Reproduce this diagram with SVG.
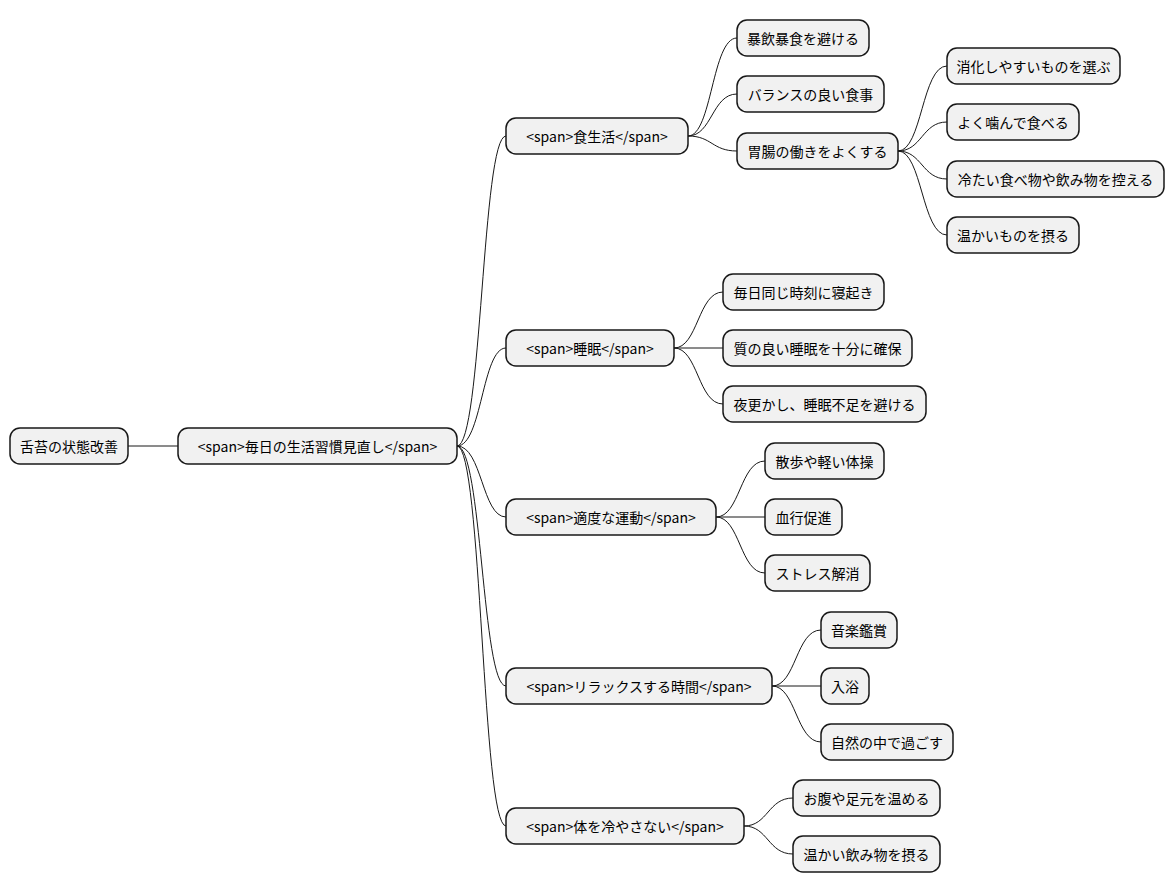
<svg xmlns="http://www.w3.org/2000/svg" width="1174" height="893" viewBox="0 0 1174 893">
<style>
.n rect{fill:#f1f1f1;stroke:#181818;stroke-width:1.5}
.n text{font-family:"Noto Sans CJK JP","Liberation Sans",sans-serif;font-size:14px;fill:#000;text-anchor:middle;dominant-baseline:central}
#c path{fill:none;stroke:#181818;stroke-width:1}
</style>
<rect width="1174" height="893" fill="#fff"/>
<g id="c">
<path d="M128,446 L178,446"/>
<path d="M457,446 C482,446 482,136 506,136"/>
<path d="M457,446 C482,446 482,348 506,348"/>
<path d="M457,446 C482,446 482,517 506,517"/>
<path d="M457,446 C482,446 482,686 506,686"/>
<path d="M457,446 C482,446 482,826 506,826"/>
<path d="M688,136 C712,136 712,38 737,38"/>
<path d="M688,136 C712,136 712,94 737,94"/>
<path d="M688,136 C712,136 712,151 737,151"/>
<path d="M898,151 C922,151 922,66 947,66"/>
<path d="M898,151 C922,151 922,122 947,122"/>
<path d="M898,151 C922,151 922,179 947,179"/>
<path d="M898,151 C922,151 922,235 947,235"/>
<path d="M674,348 C698,348 698,292 723,292"/>
<path d="M674,348 L723,348"/>
<path d="M674,348 C698,348 698,404 723,404"/>
<path d="M716,517 C740,517 740,461 765,461"/>
<path d="M716,517 L765,517"/>
<path d="M716,517 C740,517 740,573 765,573"/>
<path d="M772,686 C796,686 796,630 821,630"/>
<path d="M772,686 L821,686"/>
<path d="M772,686 C796,686 796,742 821,742"/>
<path d="M744,826 C768,826 768,798 793,798"/>
<path d="M744,826 C768,826 768,854 793,854"/>
</g>
<g id="root" class="n"><rect x="10" y="428" width="118" height="36" rx="10"/><text x="69" y="446">舌苔の状態改善</text></g>
<g id="l1" class="n"><rect x="178" y="428" width="279" height="36" rx="10"/><text x="317.5" y="446">&lt;span&gt;毎日の生活習慣見直し&lt;/span&gt;</text></g>
<g id="diet" class="n"><rect x="506" y="118" width="182" height="36" rx="10"/><text x="597" y="136">&lt;span&gt;食生活&lt;/span&gt;</text></g>
<g id="sleep" class="n"><rect x="506" y="330" width="168" height="36" rx="10"/><text x="590" y="348">&lt;span&gt;睡眠&lt;/span&gt;</text></g>
<g id="exercise" class="n"><rect x="506" y="499" width="210" height="36" rx="10"/><text x="611" y="517">&lt;span&gt;適度な運動&lt;/span&gt;</text></g>
<g id="relax" class="n"><rect x="506" y="668" width="266" height="36" rx="10"/><text x="639" y="686">&lt;span&gt;リラックスする時間&lt;/span&gt;</text></g>
<g id="warm" class="n"><rect x="506" y="808" width="238" height="36" rx="10"/><text x="625" y="826">&lt;span&gt;体を冷やさない&lt;/span&gt;</text></g>
<g id="d1" class="n"><rect x="737" y="20" width="132" height="36" rx="10"/><text x="803" y="38">暴飲暴食を避ける</text></g>
<g id="d2" class="n"><rect x="737" y="76" width="147" height="36" rx="10"/><text x="810.5" y="94">バランスの良い食事</text></g>
<g id="d3" class="n"><rect x="737" y="133" width="161" height="36" rx="10"/><text x="817.5" y="151">胃腸の働きをよくする</text></g>
<g id="g1" class="n"><rect x="947" y="48" width="173" height="36" rx="10"/><text x="1033.5" y="66">消化しやすいものを選ぶ</text></g>
<g id="g2" class="n"><rect x="947" y="104" width="132" height="36" rx="10"/><text x="1013" y="122">よく噛んで食べる</text></g>
<g id="g3" class="n"><rect x="947" y="161" width="217" height="36" rx="10"/><text x="1055.5" y="179">冷たい食べ物や飲み物を控える</text></g>
<g id="g4" class="n"><rect x="947" y="217" width="132" height="36" rx="10"/><text x="1013" y="235">温かいものを摂る</text></g>
<g id="s1" class="n"><rect x="723" y="274" width="161" height="36" rx="10"/><text x="803.5" y="292">毎日同じ時刻に寝起き</text></g>
<g id="s2" class="n"><rect x="723" y="330" width="189" height="36" rx="10"/><text x="817.5" y="348">質の良い睡眠を十分に確保</text></g>
<g id="s3" class="n"><rect x="723" y="386" width="203" height="36" rx="10"/><text x="824.5" y="404">夜更かし、睡眠不足を避ける</text></g>
<g id="e1" class="n"><rect x="765" y="443" width="119" height="36" rx="10"/><text x="824.5" y="461">散歩や軽い体操</text></g>
<g id="e2" class="n"><rect x="765" y="499" width="77" height="36" rx="10"/><text x="803.5" y="517">血行促進</text></g>
<g id="e3" class="n"><rect x="765" y="555" width="105" height="36" rx="10"/><text x="817.5" y="573">ストレス解消</text></g>
<g id="r1" class="n"><rect x="821" y="612" width="76" height="36" rx="10"/><text x="859" y="630">音楽鑑賞</text></g>
<g id="r2" class="n"><rect x="821" y="668" width="48" height="36" rx="10"/><text x="845" y="686">入浴</text></g>
<g id="r3" class="n"><rect x="821" y="724" width="132" height="36" rx="10"/><text x="887" y="742">自然の中で過ごす</text></g>
<g id="w1" class="n"><rect x="793" y="780" width="147" height="36" rx="10"/><text x="866.5" y="798">お腹や足元を温める</text></g>
<g id="w2" class="n"><rect x="793" y="836" width="147" height="36" rx="10"/><text x="866.5" y="854">温かい飲み物を摂る</text></g>
</svg>
